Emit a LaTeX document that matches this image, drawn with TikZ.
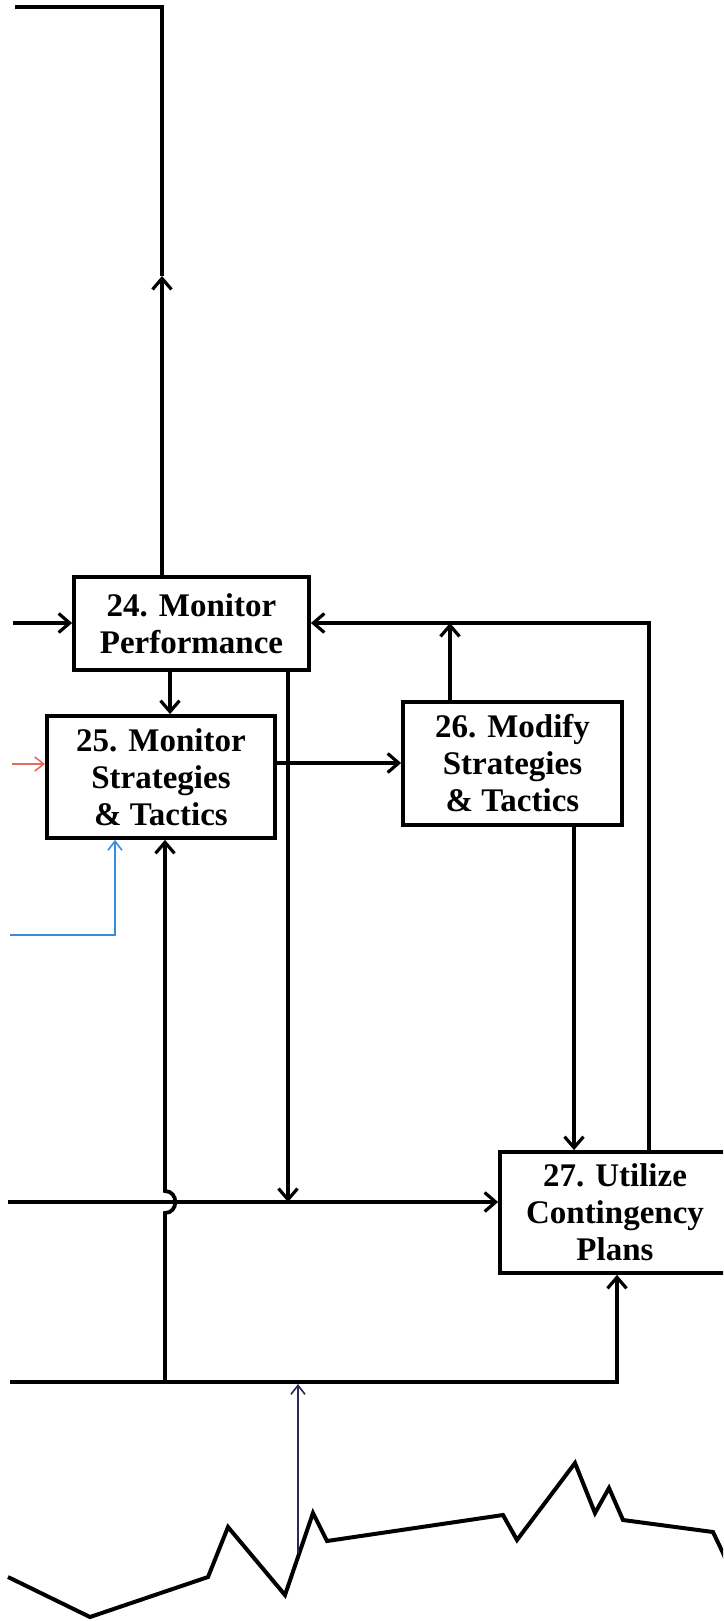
\documentclass[tikz,border=0pt]{standalone}
\usepackage{fontspec}
\setmainfont{Liberation Serif}
\usetikzlibrary{arrows.meta}
\definecolor{inred}{RGB}{232,104,92}
\definecolor{inblue}{RGB}{58,138,226}
\definecolor{navy}{RGB}{40,44,78}
\tikzset{
  procbox/.style={draw, line width=3.8pt, inner sep=0pt, align=center,
    font=\fontsize{33}{37}\selectfont\bfseries},
  flow/.style={line width=3.8pt, line join=miter},
  arr/.style={flow, -{Straight Barb[length=11pt,width=19pt,line width=3.2pt]}},
  thinarr/.style={line width=1.6pt, -{Straight Barb[length=9pt,width=14pt,line width=1.6pt]}},
}
\begin{document}
\begin{tikzpicture}[x=1pt,y=-1pt]
\useasboundingbox (0,0) rectangle (723,1621);
\clip (0,0) rectangle (723,1621);

% process boxes
\node[procbox, minimum width=235pt, minimum height=93pt] (b24) at (191.5,623.5) {24. Monitor\\Performance};
\node[procbox, minimum width=228pt, minimum height=122pt] (b25) at (161,777) {25. Monitor\\Strategies\\\& Tactics};
\node[procbox, minimum width=219pt, minimum height=123pt] (b26) at (512.5,763.5) {26. Modify\\Strategies\\\& Tactics};
\node[procbox, minimum width=230pt, minimum height=121pt] (b27) at (615,1212.5) {27. Utilize\\Contingency\\Plans};

% junction points and free ends
\coordinate (topl) at (15,7);
\coordinate (topc) at (162,7);
\coordinate (upmid) at (162,276);
\coordinate (in24) at (13,623);
\coordinate (fb) at (649,623);
\coordinate (fb26) at (450,623);
\coordinate (main) at (8,1202);
\coordinate (drop) at (288,1202);
\coordinate (base) at (10,1382);
\coordinate (baser) at (617,1382);
\coordinate (basel) at (165,1382);
\coordinate (hopb) at (165,1213);
\coordinate (hopt) at (165,1191);
\coordinate (redin) at (12,764);
\coordinate (bluein) at (10,935);
\coordinate (bluec) at (115,935);
\coordinate (zzfoot) at (298,1553);
\coordinate (zzhead) at (298,1384);

% outgoing line at the top
\draw[flow] (upmid) -- (topc) -- (topl);
\draw[arr] (topc |- b24.north) -- (upmid);

% inputs to 24
\draw[arr] (in24) -- (b24.west |- in24);
\draw[arr] (fb |- b27.north) -- (fb) -- (b24.east |- fb);
\draw[arr] (fb26 |- b26.north) -- (fb26);

% 24 -> 25, 25 -> 26
\draw[arr] (b24.south -| 170,0) -- (b25.north -| 170,0);
\draw[arr] (b25.east |- 0,763) -- (b26.west |- 0,763);

% 24 -> main line
\draw[arr] (drop |- b24.south) -- (drop);

% main line into 27
\draw[arr] (main) -- (b27.west |- main);

% 26 -> 27
\draw[arr] (b26.south -| 574,0) -- (b27.north -| 574,0);

% bottom line into 25 and 27
\draw[arr] (base) -- (baser) -- (b27.south -| baser);
\draw[arr] (basel) -- (hopb) to[out=0,in=0,looseness=1.6] (hopt) -- (b25.south -| basel);

% coloured inputs to 25
\draw[thinarr, inred] (redin) -- (b25.west |- redin);
\draw[thinarr, inblue] (bluein) -- (bluec) -- (b25.south -| bluec);

% environment line and its link upward
\draw[line width=4pt, line join=miter] (8,1577) -- (90,1617) -- (208,1577) -- (228,1527) -- (285,1595)
  -- (313,1513) -- (327,1541) -- (503,1515) -- (517,1540) -- (575,1463) -- (595,1513)
  -- (609,1488) -- (623,1520) -- (713,1532) -- (723,1553) -- (732,1575);
\draw[thinarr, navy] (zzfoot) -- (zzhead);
\end{tikzpicture}
\end{document}
